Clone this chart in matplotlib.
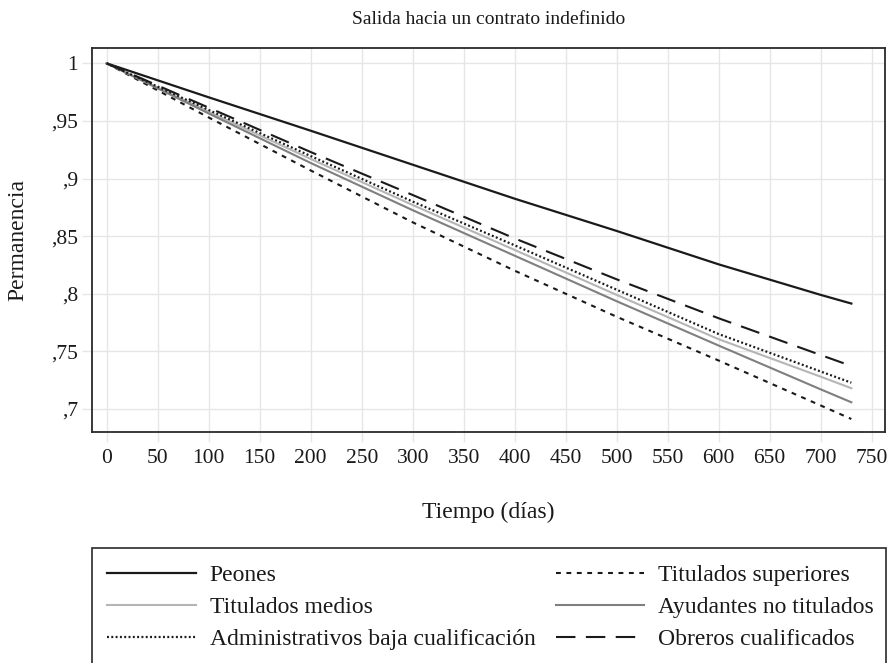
import matplotlib
matplotlib.use("Agg")
import matplotlib.pyplot as plt
from matplotlib.patches import Rectangle

plt.rcParams['font.family'] = ['Liberation Serif', 'DejaVu Serif']
plt.rcParams['lines.scale_dashes'] = False

# tiempo en días y permanencia
dias = [0, 100, 200, 300, 400, 500, 600, 700, 730]
peones = [1.0, 0.9705, 0.9415, 0.912, 0.8825, 0.8545, 0.8255, 0.799, 0.7915]
tit_superiores = [1.0, 0.953, 0.907, 0.862, 0.820, 0.780, 0.742, 0.703, 0.6913]
tit_medios = [1.0, 0.958, 0.917, 0.877, 0.838, 0.799, 0.7605, 0.728, 0.718]
ayudantes = [1.0, 0.9565, 0.9135, 0.8725, 0.833, 0.7935, 0.755, 0.717, 0.7058]
administrativos = [1.0, 0.9595, 0.9195, 0.880, 0.842, 0.8035, 0.765, 0.7325, 0.7228]
obreros = [1.0, 0.9615, 0.923, 0.8857, 0.848, 0.8125, 0.7787, 0.7468, 0.7373]

xticks = list(range(0, 751, 50))
yticks = [0.7, 0.75, 0.8, 0.85, 0.9, 0.95, 1.0]
ytick_labels = [",7", ",75", ",8", ",85", ",9", ",95", "1"]

W, H = 891, 663
fig = plt.figure(figsize=(W / 100, H / 100), dpi=100)
ax = fig.add_axes([92 / W, 1 - 432 / H, (885 - 92) / W, (432 - 48) / H])

grid_c = "#e6e6e6"
ax.grid(True, color=grid_c, lw=1.0)
ax.set_axisbelow(True)

l_peo, = ax.plot(dias, peones, color="#1a1a1a", lw=1.6, label="Peones")
l_sup, = ax.plot(dias, tit_superiores, color="#1a1a1a", lw=1.5,
                 linestyle=(0, (3.5, 4)), label="Titulados superiores")
l_med, = ax.plot(dias, tit_medios, color="#b5b5b5", lw=1.5, label="Titulados medios")
l_ayu, = ax.plot(dias, ayudantes, color="#7f7f7f", lw=1.5, label="Ayudantes no titulados")
l_adm, = ax.plot(dias, administrativos, color="#1a1a1a", lw=1.6,
                 linestyle=(0, (1.4, 1.7)), label="Administrativos baja cualificación")
l_obr, = ax.plot(dias, obreros, color="#1a1a1a", lw=1.5,
                 linestyle=(0, (14, 7.5)), label="Obreros cualificados")

ax.set_xlim(-14.4, 763)
ax.set_ylim(0.680, 1.0133)
ax.set_xticks(xticks)
ax.set_yticks(yticks)
ax.set_yticklabels(ytick_labels)
ax.tick_params(axis="both", labelsize=15.5, color=grid_c, width=1.0, length=7,
               labelcolor="#1a1a1a")
ax.tick_params(axis="x", pad=5)
ax.tick_params(axis="y", pad=3)
for s in ax.spines.values():
    s.set_color("#2a2a2a")
    s.set_linewidth(1.3)

fig.text(488.5 / W, 1 - 20 / H, "Salida hacia un contrato indefinido",
         ha="center", va="center", fontsize=14, color="#1a1a1a")
fig.text(488.5 / W, 1 - 512 / H, "Tiempo (días)",
         ha="center", va="center", fontsize=17, color="#1a1a1a")
fig.text(18 / W, 1 - 240 / H, "Permanencia", rotation=90,
         ha="center", va="center", fontsize=17, color="#1a1a1a")

handles = [l_peo, l_med, l_adm, l_sup, l_ayu, l_obr]
leg = fig.legend(handles=handles, labels=[h.get_label() for h in handles],
                 ncol=2, loc="upper left", bbox_to_anchor=(107 / W, 1 - 564.5 / H),
                 frameon=False, fontsize=17, handlelength=3.75, handletextpad=0.6,
                 columnspacing=0.85, labelspacing=0.44, borderpad=0, borderaxespad=0)
for t in leg.get_texts():
    t.set_color("#1a1a1a")

fig.patches.append(Rectangle((92 / W, -0.05), (886 - 92) / W, 0.05 + 1 - 548 / H,
                             transform=fig.transFigure, fill=False,
                             edgecolor="#2a2a2a", lw=1.2, clip_on=False))

fig.savefig("out.png", dpi=100)
